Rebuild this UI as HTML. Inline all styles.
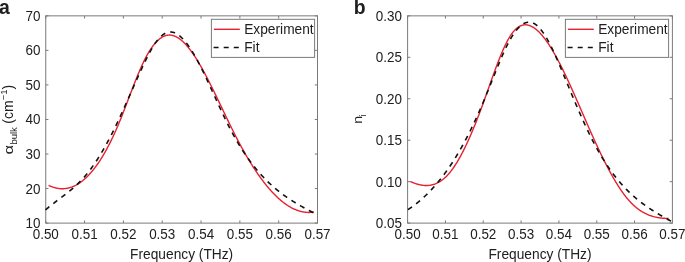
<!DOCTYPE html>
<html><head><meta charset="utf-8"><style>
html,body{margin:0;padding:0;background:#fff;}
svg{display:block;will-change:transform;}
text{font-family:"Liberation Sans",sans-serif;fill:#202020;}
</style></head><body>
<svg width="685" height="262" viewBox="0 0 685 262">
<rect width="685" height="262" fill="#fff"/>
<g stroke="#7a7a7a" stroke-width="1" fill="none">
<rect x="45.75" y="15.85" width="271.75" height="207.25" fill="none" stroke="#7a7a7a" stroke-width="1"/>
<line x1="45.75" y1="223.1" x2="45.75" y2="220.4" />
<line x1="45.75" y1="15.85" x2="45.75" y2="18.55" />
<line x1="84.57" y1="223.1" x2="84.57" y2="220.4" />
<line x1="84.57" y1="15.85" x2="84.57" y2="18.55" />
<line x1="123.39" y1="223.1" x2="123.39" y2="220.4" />
<line x1="123.39" y1="15.85" x2="123.39" y2="18.55" />
<line x1="162.21" y1="223.1" x2="162.21" y2="220.4" />
<line x1="162.21" y1="15.85" x2="162.21" y2="18.55" />
<line x1="201.04" y1="223.1" x2="201.04" y2="220.4" />
<line x1="201.04" y1="15.85" x2="201.04" y2="18.55" />
<line x1="239.86" y1="223.1" x2="239.86" y2="220.4" />
<line x1="239.86" y1="15.85" x2="239.86" y2="18.55" />
<line x1="278.68" y1="223.1" x2="278.68" y2="220.4" />
<line x1="278.68" y1="15.85" x2="278.68" y2="18.55" />
<line x1="317.50" y1="223.1" x2="317.50" y2="220.4" />
<line x1="317.50" y1="15.85" x2="317.50" y2="18.55" />
<line x1="45.75" y1="15.85" x2="48.45" y2="15.85" />
<line x1="317.5" y1="15.85" x2="314.8" y2="15.85" />
<line x1="45.75" y1="50.39" x2="48.45" y2="50.39" />
<line x1="317.5" y1="50.39" x2="314.8" y2="50.39" />
<line x1="45.75" y1="84.93" x2="48.45" y2="84.93" />
<line x1="317.5" y1="84.93" x2="314.8" y2="84.93" />
<line x1="45.75" y1="119.47" x2="48.45" y2="119.47" />
<line x1="317.5" y1="119.47" x2="314.8" y2="119.47" />
<line x1="45.75" y1="154.02" x2="48.45" y2="154.02" />
<line x1="317.5" y1="154.02" x2="314.8" y2="154.02" />
<line x1="45.75" y1="188.56" x2="48.45" y2="188.56" />
<line x1="317.5" y1="188.56" x2="314.8" y2="188.56" />
<line x1="45.75" y1="223.10" x2="48.45" y2="223.10" />
<line x1="317.5" y1="223.10" x2="314.8" y2="223.10" />
<rect x="407.6" y="15.85" width="264.79999999999995" height="207.25" fill="none" stroke="#7a7a7a" stroke-width="1"/>
<line x1="407.60" y1="223.1" x2="407.60" y2="220.4" />
<line x1="407.60" y1="15.85" x2="407.60" y2="18.55" />
<line x1="445.43" y1="223.1" x2="445.43" y2="220.4" />
<line x1="445.43" y1="15.85" x2="445.43" y2="18.55" />
<line x1="483.26" y1="223.1" x2="483.26" y2="220.4" />
<line x1="483.26" y1="15.85" x2="483.26" y2="18.55" />
<line x1="521.09" y1="223.1" x2="521.09" y2="220.4" />
<line x1="521.09" y1="15.85" x2="521.09" y2="18.55" />
<line x1="558.91" y1="223.1" x2="558.91" y2="220.4" />
<line x1="558.91" y1="15.85" x2="558.91" y2="18.55" />
<line x1="596.74" y1="223.1" x2="596.74" y2="220.4" />
<line x1="596.74" y1="15.85" x2="596.74" y2="18.55" />
<line x1="634.57" y1="223.1" x2="634.57" y2="220.4" />
<line x1="634.57" y1="15.85" x2="634.57" y2="18.55" />
<line x1="672.40" y1="223.1" x2="672.40" y2="220.4" />
<line x1="672.40" y1="15.85" x2="672.40" y2="18.55" />
<line x1="407.6" y1="15.85" x2="410.3" y2="15.85" />
<line x1="672.4" y1="15.85" x2="669.6999999999999" y2="15.85" />
<line x1="407.6" y1="57.30" x2="410.3" y2="57.30" />
<line x1="672.4" y1="57.30" x2="669.6999999999999" y2="57.30" />
<line x1="407.6" y1="98.75" x2="410.3" y2="98.75" />
<line x1="672.4" y1="98.75" x2="669.6999999999999" y2="98.75" />
<line x1="407.6" y1="140.20" x2="410.3" y2="140.20" />
<line x1="672.4" y1="140.20" x2="669.6999999999999" y2="140.20" />
<line x1="407.6" y1="181.65" x2="410.3" y2="181.65" />
<line x1="672.4" y1="181.65" x2="669.6999999999999" y2="181.65" />
<line x1="407.6" y1="223.10" x2="410.3" y2="223.10" />
<line x1="672.4" y1="223.10" x2="669.6999999999999" y2="223.10" />
</g>
<g fill="none" stroke-linejoin="round">
<path d="M48.60,185.33 L49.10,185.57 L49.60,185.81 L50.10,186.03 L50.60,186.25 L51.10,186.46 L51.60,186.65 L52.10,186.84 L52.60,187.02 L53.10,187.20 L53.60,187.36 L54.10,187.51 L54.60,187.66 L55.10,187.79 L55.60,187.92 L56.10,188.04 L56.60,188.15 L57.10,188.25 L57.60,188.34 L58.10,188.42 L58.60,188.49 L59.10,188.55 L59.60,188.60 L60.10,188.65 L60.60,188.68 L61.10,188.71 L61.60,188.73 L62.10,188.73 L62.60,188.73 L63.10,188.72 L63.60,188.70 L64.10,188.67 L64.60,188.63 L65.10,188.58 L65.60,188.52 L66.10,188.45 L66.60,188.37 L67.10,188.28 L67.60,188.19 L68.10,188.08 L68.60,187.96 L69.10,187.84 L69.60,187.70 L70.10,187.56 L70.60,187.40 L71.10,187.23 L71.60,187.06 L72.10,186.88 L72.60,186.68 L73.10,186.48 L73.60,186.26 L74.10,186.04 L74.60,185.81 L75.10,185.56 L75.60,185.31 L76.10,185.05 L76.60,184.77 L77.10,184.49 L77.60,184.20 L78.10,183.89 L78.60,183.58 L79.10,183.26 L79.60,182.92 L80.10,182.58 L80.60,182.22 L81.10,181.86 L81.60,181.49 L82.10,181.10 L82.60,180.71 L83.10,180.30 L83.60,179.89 L84.10,179.46 L84.60,179.03 L85.10,178.58 L85.60,178.12 L86.10,177.66 L86.60,177.18 L87.10,176.69 L87.60,176.19 L88.10,175.69 L88.60,175.17 L89.10,174.64 L89.60,174.10 L90.10,173.55 L90.60,172.98 L91.10,172.41 L91.60,171.83 L92.10,171.24 L92.60,170.63 L93.10,170.02 L93.60,169.39 L94.10,168.76 L94.60,168.11 L95.10,167.45 L95.60,166.79 L96.10,166.11 L96.60,165.42 L97.10,164.72 L97.60,164.00 L98.10,163.28 L98.60,162.55 L99.10,161.80 L99.60,161.05 L100.10,160.28 L100.60,159.51 L101.10,158.72 L101.60,157.92 L102.10,157.11 L102.60,156.29 L103.10,155.45 L103.60,154.61 L104.10,153.75 L104.60,152.89 L105.10,152.01 L105.60,151.12 L106.10,150.22 L106.60,149.31 L107.10,148.39 L107.60,147.45 L108.10,146.51 L108.60,145.55 L109.10,144.59 L109.60,143.61 L110.10,142.62 L110.60,141.61 L111.10,140.60 L111.60,139.58 L112.10,138.54 L112.60,137.49 L113.10,136.43 L113.60,135.36 L114.10,134.28 L114.60,133.18 L115.10,132.08 L115.60,130.96 L116.10,129.83 L116.60,128.69 L117.10,127.54 L117.60,126.37 L118.10,125.20 L118.60,124.01 L119.10,122.81 L119.60,121.60 L120.10,120.37 L120.60,119.14 L121.10,117.90 L121.60,116.65 L122.10,115.39 L122.60,114.12 L123.10,112.85 L123.60,111.57 L124.10,110.28 L124.60,108.99 L125.10,107.70 L125.60,106.40 L126.10,105.09 L126.60,103.79 L127.10,102.48 L127.60,101.17 L128.10,99.85 L128.60,98.54 L129.10,97.23 L129.60,95.92 L130.10,94.61 L130.60,93.30 L131.10,91.99 L131.60,90.69 L132.10,89.39 L132.60,88.09 L133.10,86.80 L133.60,85.52 L134.10,84.24 L134.60,82.97 L135.10,81.70 L135.60,80.44 L136.10,79.20 L136.60,77.96 L137.10,76.73 L137.60,75.51 L138.10,74.30 L138.60,73.10 L139.10,71.92 L139.60,70.74 L140.10,69.58 L140.60,68.44 L141.10,67.31 L141.60,66.19 L142.10,65.09 L142.60,64.01 L143.10,62.94 L143.60,61.89 L144.10,60.86 L144.60,59.85 L145.10,58.85 L145.60,57.88 L146.10,56.93 L146.60,55.99 L147.10,55.08 L147.60,54.19 L148.10,53.32 L148.60,52.47 L149.10,51.64 L149.60,50.83 L150.10,50.04 L150.60,49.27 L151.10,48.52 L151.60,47.80 L152.10,47.09 L152.60,46.40 L153.10,45.73 L153.60,45.09 L154.10,44.46 L154.60,43.86 L155.10,43.27 L155.60,42.71 L156.10,42.16 L156.60,41.64 L157.10,41.13 L157.60,40.65 L158.10,40.19 L158.60,39.74 L159.10,39.32 L159.60,38.92 L160.10,38.53 L160.60,38.17 L161.10,37.83 L161.60,37.50 L162.10,37.20 L162.60,36.92 L163.10,36.66 L163.60,36.41 L164.10,36.19 L164.60,35.99 L165.10,35.80 L165.60,35.64 L166.10,35.50 L166.60,35.38 L167.10,35.27 L167.60,35.19 L168.10,35.13 L168.60,35.08 L169.10,35.06 L169.60,35.06 L170.10,35.07 L170.60,35.11 L171.10,35.17 L171.60,35.24 L172.10,35.33 L172.60,35.45 L173.10,35.58 L173.60,35.73 L174.10,35.89 L174.60,36.08 L175.10,36.28 L175.60,36.50 L176.10,36.74 L176.60,37.00 L177.10,37.27 L177.60,37.56 L178.10,37.87 L178.60,38.19 L179.10,38.53 L179.60,38.89 L180.10,39.26 L180.60,39.65 L181.10,40.05 L181.60,40.47 L182.10,40.90 L182.60,41.35 L183.10,41.82 L183.60,42.29 L184.10,42.79 L184.60,43.29 L185.10,43.82 L185.60,44.35 L186.10,44.90 L186.60,45.46 L187.10,46.04 L187.60,46.63 L188.10,47.23 L188.60,47.85 L189.10,48.47 L189.60,49.11 L190.10,49.77 L190.60,50.43 L191.10,51.11 L191.60,51.80 L192.10,52.49 L192.60,53.21 L193.10,53.93 L193.60,54.66 L194.10,55.40 L194.60,56.16 L195.10,56.92 L195.60,57.70 L196.10,58.48 L196.60,59.28 L197.10,60.08 L197.60,60.89 L198.10,61.72 L198.60,62.55 L199.10,63.39 L199.60,64.24 L200.10,65.09 L200.60,65.96 L201.10,66.84 L201.60,67.72 L202.10,68.61 L202.60,69.50 L203.10,70.41 L203.60,71.32 L204.10,72.24 L204.60,73.16 L205.10,74.10 L205.60,75.04 L206.10,75.98 L206.60,76.93 L207.10,77.89 L207.60,78.85 L208.10,79.82 L208.60,80.79 L209.10,81.77 L209.60,82.75 L210.10,83.74 L210.60,84.73 L211.10,85.73 L211.60,86.73 L212.10,87.74 L212.60,88.74 L213.10,89.76 L213.60,90.77 L214.10,91.79 L214.60,92.81 L215.10,93.84 L215.60,94.87 L216.10,95.90 L216.60,96.93 L217.10,97.96 L217.60,99.00 L218.10,100.04 L218.60,101.08 L219.10,102.12 L219.60,103.16 L220.10,104.20 L220.60,105.24 L221.10,106.29 L221.60,107.33 L222.10,108.38 L222.60,109.42 L223.10,110.47 L223.60,111.51 L224.10,112.56 L224.60,113.60 L225.10,114.64 L225.60,115.68 L226.10,116.72 L226.60,117.76 L227.10,118.80 L227.60,119.83 L228.10,120.87 L228.60,121.90 L229.10,122.92 L229.60,123.95 L230.10,124.97 L230.60,125.99 L231.10,127.01 L231.60,128.02 L232.10,129.03 L232.60,130.04 L233.10,131.04 L233.60,132.04 L234.10,133.03 L234.60,134.02 L235.10,135.01 L235.60,135.99 L236.10,136.96 L236.60,137.93 L237.10,138.89 L237.60,139.85 L238.10,140.81 L238.60,141.75 L239.10,142.70 L239.60,143.63 L240.10,144.56 L240.60,145.49 L241.10,146.41 L241.60,147.33 L242.10,148.24 L242.60,149.14 L243.10,150.04 L243.60,150.93 L244.10,151.82 L244.60,152.70 L245.10,153.58 L245.60,154.45 L246.10,155.31 L246.60,156.17 L247.10,157.02 L247.60,157.87 L248.10,158.71 L248.60,159.55 L249.10,160.38 L249.60,161.20 L250.10,162.02 L250.60,162.83 L251.10,163.64 L251.60,164.44 L252.10,165.24 L252.60,166.02 L253.10,166.81 L253.60,167.58 L254.10,168.36 L254.60,169.12 L255.10,169.88 L255.60,170.63 L256.10,171.38 L256.60,172.12 L257.10,172.86 L257.60,173.58 L258.10,174.31 L258.60,175.02 L259.10,175.73 L259.60,176.44 L260.10,177.14 L260.60,177.83 L261.10,178.51 L261.60,179.19 L262.10,179.86 L262.60,180.53 L263.10,181.19 L263.60,181.85 L264.10,182.49 L264.60,183.13 L265.10,183.77 L265.60,184.40 L266.10,185.02 L266.60,185.64 L267.10,186.24 L267.60,186.85 L268.10,187.44 L268.60,188.03 L269.10,188.62 L269.60,189.19 L270.10,189.76 L270.60,190.33 L271.10,190.88 L271.60,191.43 L272.10,191.98 L272.60,192.51 L273.10,193.04 L273.60,193.57 L274.10,194.08 L274.60,194.59 L275.10,195.10 L275.60,195.59 L276.10,196.08 L276.60,196.56 L277.10,197.04 L277.60,197.51 L278.10,197.97 L278.60,198.43 L279.10,198.88 L279.60,199.32 L280.10,199.75 L280.60,200.18 L281.10,200.60 L281.60,201.01 L282.10,201.42 L282.60,201.82 L283.10,202.21 L283.60,202.60 L284.10,202.98 L284.60,203.35 L285.10,203.71 L285.60,204.07 L286.10,204.42 L286.60,204.76 L287.10,205.10 L287.60,205.42 L288.10,205.75 L288.60,206.06 L289.10,206.37 L289.60,206.67 L290.10,206.96 L290.60,207.24 L291.10,207.52 L291.60,207.79 L292.10,208.05 L292.60,208.31 L293.10,208.55 L293.60,208.79 L294.10,209.03 L294.60,209.25 L295.10,209.47 L295.60,209.68 L296.10,209.88 L296.60,210.08 L297.10,210.26 L297.60,210.44 L298.10,210.62 L298.60,210.78 L299.10,210.94 L299.60,211.09 L300.10,211.23 L300.60,211.36 L301.10,211.49 L301.60,211.61 L302.10,211.72 L302.60,211.82 L303.10,211.92 L303.60,212.00 L304.10,212.08 L304.60,212.16 L305.10,212.22 L305.60,212.28 L306.10,212.32 L306.60,212.36 L307.10,212.40 L307.60,212.42 L308.10,212.44 L308.60,212.45 L309.10,212.45 L309.60,212.44 L310.10,212.42 L310.60,212.40 L311.10,212.37 L311.60,212.33 L312.10,212.28 L312.60,212.22 L313.10,212.16 L313.60,212.08 L313.90,212.04" stroke="#e8202f" stroke-width="1.4"/>
<path d="M45.50,209.90 L46.00,209.46 L46.50,209.04 L47.00,208.61 L47.50,208.19 L48.00,207.78 L48.50,207.37 L49.00,206.96 L49.50,206.55 L50.00,206.15 L50.50,205.75 L51.00,205.35 L51.50,204.96 L52.00,204.56 L52.50,204.17 L53.00,203.78 L53.50,203.40 L54.00,203.01 L54.50,202.63 L55.00,202.25 L55.50,201.87 L56.00,201.49 L56.50,201.11 L57.00,200.73 L57.50,200.36 L58.00,199.98 L58.50,199.61 L59.00,199.23 L59.50,198.86 L60.00,198.48 L60.50,198.10 L61.00,197.73 L61.50,197.35 L62.00,196.97 L62.50,196.60 L63.00,196.22 L63.50,195.84 L64.00,195.45 L64.50,195.07 L65.00,194.69 L65.50,194.30 L66.00,193.91 L66.50,193.52 L67.00,193.13 L67.50,192.73 L68.00,192.34 L68.50,191.94 L69.00,191.53 L69.50,191.13 L70.00,190.72 L70.50,190.30 L71.00,189.89 L71.50,189.47 L72.00,189.04 L72.50,188.62 L73.00,188.19 L73.50,187.75 L74.00,187.31 L74.50,186.87 L75.00,186.42 L75.50,185.96 L76.00,185.50 L76.50,185.04 L77.00,184.57 L77.50,184.09 L78.00,183.61 L78.50,183.13 L79.00,182.63 L79.50,182.13 L80.00,181.63 L80.50,181.12 L81.00,180.60 L81.50,180.08 L82.00,179.54 L82.50,179.01 L83.00,178.46 L83.50,177.91 L84.00,177.35 L84.50,176.78 L85.00,176.20 L85.50,175.62 L86.00,175.03 L86.50,174.43 L87.00,173.82 L87.50,173.21 L88.00,172.58 L88.50,171.95 L89.00,171.31 L89.50,170.66 L90.00,170.00 L90.50,169.34 L91.00,168.66 L91.50,167.98 L92.00,167.29 L92.50,166.60 L93.00,165.89 L93.50,165.18 L94.00,164.46 L94.50,163.73 L95.00,162.99 L95.50,162.25 L96.00,161.50 L96.50,160.74 L97.00,159.97 L97.50,159.20 L98.00,158.42 L98.50,157.63 L99.00,156.83 L99.50,156.02 L100.00,155.21 L100.50,154.39 L101.00,153.56 L101.50,152.73 L102.00,151.89 L102.50,151.04 L103.00,150.18 L103.50,149.32 L104.00,148.44 L104.50,147.57 L105.00,146.68 L105.50,145.79 L106.00,144.89 L106.50,143.98 L107.00,143.06 L107.50,142.14 L108.00,141.21 L108.50,140.28 L109.00,139.34 L109.50,138.39 L110.00,137.43 L110.50,136.47 L111.00,135.50 L111.50,134.52 L112.00,133.53 L112.50,132.54 L113.00,131.55 L113.50,130.54 L114.00,129.53 L114.50,128.51 L115.00,127.49 L115.50,126.46 L116.00,125.42 L116.50,124.38 L117.00,123.33 L117.50,122.27 L118.00,121.21 L118.50,120.14 L119.00,119.07 L119.50,118.00 L120.00,116.92 L120.50,115.83 L121.00,114.74 L121.50,113.65 L122.00,112.55 L122.50,111.45 L123.00,110.34 L123.50,109.24 L124.00,108.13 L124.50,107.01 L125.00,105.90 L125.50,104.78 L126.00,103.66 L126.50,102.54 L127.00,101.41 L127.50,100.29 L128.00,99.16 L128.50,98.03 L129.00,96.90 L129.50,95.78 L130.00,94.65 L130.50,93.52 L131.00,92.39 L131.50,91.26 L132.00,90.13 L132.50,89.00 L133.00,87.87 L133.50,86.74 L134.00,85.62 L134.50,84.50 L135.00,83.37 L135.50,82.25 L136.00,81.14 L136.50,80.02 L137.00,78.91 L137.50,77.80 L138.00,76.69 L138.50,75.58 L139.00,74.48 L139.50,73.39 L140.00,72.29 L140.50,71.20 L141.00,70.12 L141.50,69.04 L142.00,67.96 L142.50,66.89 L143.00,65.83 L143.50,64.77 L144.00,63.71 L144.50,62.67 L145.00,61.63 L145.50,60.60 L146.00,59.58 L146.50,58.57 L147.00,57.56 L147.50,56.58 L148.00,55.60 L148.50,54.63 L149.00,53.68 L149.50,52.74 L150.00,51.82 L150.50,50.91 L151.00,50.02 L151.50,49.14 L152.00,48.29 L152.50,47.45 L153.00,46.63 L153.50,45.82 L154.00,45.04 L154.50,44.28 L155.00,43.54 L155.50,42.82 L156.00,42.13 L156.50,41.45 L157.00,40.80 L157.50,40.17 L158.00,39.56 L158.50,38.97 L159.00,38.41 L159.50,37.87 L160.00,37.35 L160.50,36.85 L161.00,36.38 L161.50,35.93 L162.00,35.50 L162.50,35.10 L163.00,34.72 L163.50,34.36 L164.00,34.03 L164.50,33.72 L165.00,33.44 L165.50,33.18 L166.00,32.95 L166.50,32.74 L167.00,32.55 L167.50,32.39 L168.00,32.26 L168.50,32.15 L169.00,32.06 L169.50,32.01 L170.00,31.97 L170.50,31.96 L171.00,31.98 L171.50,32.02 L172.00,32.09 L172.50,32.17 L173.00,32.28 L173.50,32.42 L174.00,32.58 L174.50,32.76 L175.00,32.96 L175.50,33.19 L176.00,33.43 L176.50,33.70 L177.00,33.99 L177.50,34.30 L178.00,34.63 L178.50,34.98 L179.00,35.35 L179.50,35.74 L180.00,36.16 L180.50,36.59 L181.00,37.03 L181.50,37.50 L182.00,37.99 L182.50,38.49 L183.00,39.02 L183.50,39.56 L184.00,40.11 L184.50,40.69 L185.00,41.28 L185.50,41.89 L186.00,42.51 L186.50,43.15 L187.00,43.81 L187.50,44.48 L188.00,45.17 L188.50,45.87 L189.00,46.58 L189.50,47.31 L190.00,48.06 L190.50,48.81 L191.00,49.59 L191.50,50.37 L192.00,51.17 L192.50,51.98 L193.00,52.80 L193.50,53.64 L194.00,54.48 L194.50,55.34 L195.00,56.21 L195.50,57.09 L196.00,57.98 L196.50,58.88 L197.00,59.79 L197.50,60.72 L198.00,61.65 L198.50,62.59 L199.00,63.54 L199.50,64.49 L200.00,65.46 L200.50,66.44 L201.00,67.42 L201.50,68.41 L202.00,69.41 L202.50,70.41 L203.00,71.42 L203.50,72.44 L204.00,73.47 L204.50,74.50 L205.00,75.53 L205.50,76.57 L206.00,77.62 L206.50,78.67 L207.00,79.73 L207.50,80.79 L208.00,81.86 L208.50,82.92 L209.00,84.00 L209.50,85.07 L210.00,86.15 L210.50,87.23 L211.00,88.31 L211.50,89.40 L212.00,90.49 L212.50,91.58 L213.00,92.67 L213.50,93.76 L214.00,94.85 L214.50,95.94 L215.00,97.03 L215.50,98.13 L216.00,99.22 L216.50,100.31 L217.00,101.40 L217.50,102.49 L218.00,103.58 L218.50,104.66 L219.00,105.75 L219.50,106.83 L220.00,107.91 L220.50,108.98 L221.00,110.06 L221.50,111.12 L222.00,112.19 L222.50,113.25 L223.00,114.31 L223.50,115.36 L224.00,116.41 L224.50,117.45 L225.00,118.49 L225.50,119.52 L226.00,120.55 L226.50,121.57 L227.00,122.58 L227.50,123.59 L228.00,124.59 L228.50,125.58 L229.00,126.57 L229.50,127.55 L230.00,128.51 L230.50,129.47 L231.00,130.43 L231.50,131.37 L232.00,132.31 L232.50,133.24 L233.00,134.16 L233.50,135.07 L234.00,135.98 L234.50,136.88 L235.00,137.77 L235.50,138.65 L236.00,139.52 L236.50,140.39 L237.00,141.25 L237.50,142.10 L238.00,142.95 L238.50,143.79 L239.00,144.62 L239.50,145.44 L240.00,146.26 L240.50,147.06 L241.00,147.87 L241.50,148.66 L242.00,149.45 L242.50,150.23 L243.00,151.00 L243.50,151.77 L244.00,152.53 L244.50,153.28 L245.00,154.03 L245.50,154.77 L246.00,155.50 L246.50,156.23 L247.00,156.95 L247.50,157.66 L248.00,158.37 L248.50,159.07 L249.00,159.76 L249.50,160.45 L250.00,161.13 L250.50,161.81 L251.00,162.47 L251.50,163.14 L252.00,163.79 L252.50,164.44 L253.00,165.09 L253.50,165.73 L254.00,166.36 L254.50,166.99 L255.00,167.61 L255.50,168.22 L256.00,168.83 L256.50,169.44 L257.00,170.04 L257.50,170.63 L258.00,171.22 L258.50,171.80 L259.00,172.37 L259.50,172.95 L260.00,173.51 L260.50,174.07 L261.00,174.63 L261.50,175.18 L262.00,175.72 L262.50,176.26 L263.00,176.79 L263.50,177.32 L264.00,177.85 L264.50,178.37 L265.00,178.88 L265.50,179.39 L266.00,179.90 L266.50,180.40 L267.00,180.89 L267.50,181.38 L268.00,181.87 L268.50,182.35 L269.00,182.83 L269.50,183.30 L270.00,183.77 L270.50,184.23 L271.00,184.69 L271.50,185.15 L272.00,185.60 L272.50,186.04 L273.00,186.49 L273.50,186.92 L274.00,187.36 L274.50,187.79 L275.00,188.22 L275.50,188.64 L276.00,189.06 L276.50,189.47 L277.00,189.88 L277.50,190.29 L278.00,190.69 L278.50,191.09 L279.00,191.49 L279.50,191.88 L280.00,192.27 L280.50,192.66 L281.00,193.04 L281.50,193.42 L282.00,193.80 L282.50,194.17 L283.00,194.54 L283.50,194.90 L284.00,195.27 L284.50,195.63 L285.00,195.98 L285.50,196.34 L286.00,196.69 L286.50,197.04 L287.00,197.38 L287.50,197.72 L288.00,198.06 L288.50,198.40 L289.00,198.73 L289.50,199.07 L290.00,199.40 L290.50,199.72 L291.00,200.05 L291.50,200.37 L292.00,200.69 L292.50,201.00 L293.00,201.32 L293.50,201.63 L294.00,201.94 L294.50,202.25 L295.00,202.55 L295.50,202.86 L296.00,203.16 L296.50,203.46 L297.00,203.76 L297.50,204.05 L298.00,204.35 L298.50,204.64 L299.00,204.93 L299.50,205.22 L300.00,205.51 L300.50,205.79 L301.00,206.08 L301.50,206.36 L302.00,206.64 L302.50,206.92 L303.00,207.20 L303.50,207.48 L304.00,207.75 L304.50,208.03 L305.00,208.30 L305.50,208.57 L306.00,208.84 L306.50,209.12 L307.00,209.38 L307.50,209.65 L308.00,209.92 L308.50,210.19 L309.00,210.45 L309.50,210.72 L310.00,210.98 L310.50,211.24 L311.00,211.51 L311.50,211.77 L312.00,212.03 L312.50,212.29 L313.00,212.55 L313.50,212.81 L314.00,213.07 L314.50,213.33" stroke="#111" stroke-width="1.6" stroke-dasharray="5 5.1"/>
<path d="M410.30,181.52 L410.80,181.74 L411.30,181.96 L411.80,182.17 L412.30,182.37 L412.80,182.58 L413.30,182.77 L413.80,182.96 L414.30,183.15 L414.80,183.32 L415.30,183.50 L415.80,183.66 L416.30,183.83 L416.80,183.98 L417.30,184.13 L417.80,184.27 L418.30,184.40 L418.80,184.53 L419.30,184.65 L419.80,184.76 L420.30,184.87 L420.80,184.97 L421.30,185.06 L421.80,185.14 L422.30,185.22 L422.80,185.28 L423.30,185.34 L423.80,185.39 L424.30,185.43 L424.80,185.47 L425.30,185.49 L425.80,185.50 L426.30,185.51 L426.80,185.50 L427.30,185.49 L427.80,185.47 L428.30,185.44 L428.80,185.39 L429.30,185.34 L429.80,185.28 L430.30,185.20 L430.80,185.12 L431.30,185.02 L431.80,184.92 L432.30,184.80 L432.80,184.67 L433.30,184.53 L433.80,184.38 L434.30,184.22 L434.80,184.04 L435.30,183.86 L435.80,183.66 L436.30,183.45 L436.80,183.22 L437.30,182.99 L437.80,182.74 L438.30,182.48 L438.80,182.21 L439.30,181.92 L439.80,181.62 L440.30,181.30 L440.80,180.98 L441.30,180.63 L441.80,180.28 L442.30,179.91 L442.80,179.53 L443.30,179.13 L443.80,178.72 L444.30,178.29 L444.80,177.85 L445.30,177.39 L445.80,176.92 L446.30,176.43 L446.80,175.93 L447.30,175.41 L447.80,174.88 L448.30,174.33 L448.80,173.76 L449.30,173.18 L449.80,172.58 L450.30,171.97 L450.80,171.34 L451.30,170.69 L451.80,170.03 L452.30,169.35 L452.80,168.66 L453.30,167.96 L453.80,167.23 L454.30,166.50 L454.80,165.75 L455.30,164.98 L455.80,164.20 L456.30,163.41 L456.80,162.60 L457.30,161.77 L457.80,160.94 L458.30,160.09 L458.80,159.22 L459.30,158.34 L459.80,157.45 L460.30,156.55 L460.80,155.63 L461.30,154.70 L461.80,153.76 L462.30,152.80 L462.80,151.83 L463.30,150.85 L463.80,149.86 L464.30,148.85 L464.80,147.83 L465.30,146.81 L465.80,145.76 L466.30,144.71 L466.80,143.65 L467.30,142.57 L467.80,141.48 L468.30,140.38 L468.80,139.27 L469.30,138.15 L469.80,137.02 L470.30,135.88 L470.80,134.73 L471.30,133.57 L471.80,132.39 L472.30,131.21 L472.80,130.02 L473.30,128.81 L473.80,127.60 L474.30,126.38 L474.80,125.15 L475.30,123.91 L475.80,122.66 L476.30,121.40 L476.80,120.13 L477.30,118.85 L477.80,117.57 L478.30,116.28 L478.80,114.97 L479.30,113.66 L479.80,112.35 L480.30,111.02 L480.80,109.68 L481.30,108.34 L481.80,106.99 L482.30,105.64 L482.80,104.27 L483.30,102.90 L483.80,101.52 L484.30,100.14 L484.80,98.75 L485.30,97.35 L485.80,95.95 L486.30,94.55 L486.80,93.14 L487.30,91.73 L487.80,90.32 L488.30,88.91 L488.80,87.49 L489.30,86.08 L489.80,84.67 L490.30,83.26 L490.80,81.85 L491.30,80.45 L491.80,79.05 L492.30,77.65 L492.80,76.26 L493.30,74.87 L493.80,73.49 L494.30,72.12 L494.80,70.76 L495.30,69.40 L495.80,68.05 L496.30,66.71 L496.80,65.39 L497.30,64.07 L497.80,62.77 L498.30,61.47 L498.80,60.20 L499.30,58.93 L499.80,57.68 L500.30,56.44 L500.80,55.22 L501.30,54.02 L501.80,52.83 L502.30,51.67 L502.80,50.52 L503.30,49.39 L503.80,48.27 L504.30,47.18 L504.80,46.11 L505.30,45.07 L505.80,44.04 L506.30,43.04 L506.80,42.06 L507.30,41.11 L507.80,40.18 L508.30,39.28 L508.80,38.40 L509.30,37.56 L509.80,36.74 L510.30,35.94 L510.80,35.18 L511.30,34.45 L511.80,33.75 L512.30,33.07 L512.80,32.42 L513.30,31.81 L513.80,31.22 L514.30,30.65 L514.80,30.12 L515.30,29.61 L515.80,29.13 L516.30,28.68 L516.80,28.25 L517.30,27.85 L517.80,27.48 L518.30,27.13 L518.80,26.81 L519.30,26.51 L519.80,26.24 L520.30,25.99 L520.80,25.77 L521.30,25.57 L521.80,25.39 L522.30,25.24 L522.80,25.11 L523.30,25.01 L523.80,24.92 L524.30,24.86 L524.80,24.83 L525.30,24.81 L525.80,24.82 L526.30,24.85 L526.80,24.90 L527.30,24.97 L527.80,25.06 L528.30,25.17 L528.80,25.31 L529.30,25.46 L529.80,25.63 L530.30,25.82 L530.80,26.04 L531.30,26.27 L531.80,26.52 L532.30,26.78 L532.80,27.07 L533.30,27.37 L533.80,27.70 L534.30,28.04 L534.80,28.39 L535.30,28.77 L535.80,29.16 L536.30,29.56 L536.80,29.99 L537.30,30.42 L537.80,30.88 L538.30,31.35 L538.80,31.83 L539.30,32.33 L539.80,32.85 L540.30,33.38 L540.80,33.92 L541.30,34.48 L541.80,35.05 L542.30,35.64 L542.80,36.24 L543.30,36.86 L543.80,37.48 L544.30,38.13 L544.80,38.78 L545.30,39.45 L545.80,40.13 L546.30,40.82 L546.80,41.53 L547.30,42.24 L547.80,42.97 L548.30,43.71 L548.80,44.47 L549.30,45.23 L549.80,46.01 L550.30,46.80 L550.80,47.60 L551.30,48.41 L551.80,49.23 L552.30,50.06 L552.80,50.90 L553.30,51.75 L553.80,52.61 L554.30,53.48 L554.80,54.36 L555.30,55.25 L555.80,56.15 L556.30,57.06 L556.80,57.98 L557.30,58.91 L557.80,59.84 L558.30,60.79 L558.80,61.74 L559.30,62.70 L559.80,63.67 L560.30,64.65 L560.80,65.63 L561.30,66.62 L561.80,67.62 L562.30,68.63 L562.80,69.64 L563.30,70.66 L563.80,71.69 L564.30,72.72 L564.80,73.76 L565.30,74.80 L565.80,75.85 L566.30,76.91 L566.80,77.97 L567.30,79.04 L567.80,80.11 L568.30,81.19 L568.80,82.27 L569.30,83.36 L569.80,84.45 L570.30,85.55 L570.80,86.65 L571.30,87.75 L571.80,88.86 L572.30,89.97 L572.80,91.09 L573.30,92.21 L573.80,93.33 L574.30,94.45 L574.80,95.58 L575.30,96.71 L575.80,97.84 L576.30,98.98 L576.80,100.12 L577.30,101.25 L577.80,102.39 L578.30,103.54 L578.80,104.68 L579.30,105.83 L579.80,106.97 L580.30,108.12 L580.80,109.26 L581.30,110.41 L581.80,111.56 L582.30,112.71 L582.80,113.86 L583.30,115.01 L583.80,116.15 L584.30,117.30 L584.80,118.45 L585.30,119.60 L585.80,120.74 L586.30,121.88 L586.80,123.03 L587.30,124.17 L587.80,125.31 L588.30,126.44 L588.80,127.58 L589.30,128.71 L589.80,129.84 L590.30,130.97 L590.80,132.10 L591.30,133.22 L591.80,134.34 L592.30,135.45 L592.80,136.57 L593.30,137.68 L593.80,138.78 L594.30,139.88 L594.80,140.98 L595.30,142.07 L595.80,143.16 L596.30,144.25 L596.80,145.33 L597.30,146.40 L597.80,147.47 L598.30,148.54 L598.80,149.60 L599.30,150.66 L599.80,151.71 L600.30,152.76 L600.80,153.80 L601.30,154.83 L601.80,155.86 L602.30,156.89 L602.80,157.90 L603.30,158.92 L603.80,159.92 L604.30,160.92 L604.80,161.92 L605.30,162.91 L605.80,163.89 L606.30,164.86 L606.80,165.83 L607.30,166.80 L607.80,167.75 L608.30,168.70 L608.80,169.64 L609.30,170.57 L609.80,171.50 L610.30,172.42 L610.80,173.33 L611.30,174.24 L611.80,175.13 L612.30,176.02 L612.80,176.90 L613.30,177.78 L613.80,178.64 L614.30,179.50 L614.80,180.35 L615.30,181.19 L615.80,182.02 L616.30,182.84 L616.80,183.66 L617.30,184.46 L617.80,185.26 L618.30,186.05 L618.80,186.82 L619.30,187.59 L619.80,188.35 L620.30,189.10 L620.80,189.84 L621.30,190.57 L621.80,191.29 L622.30,192.00 L622.80,192.71 L623.30,193.40 L623.80,194.08 L624.30,194.75 L624.80,195.41 L625.30,196.05 L625.80,196.69 L626.30,197.32 L626.80,197.94 L627.30,198.54 L627.80,199.14 L628.30,199.72 L628.80,200.29 L629.30,200.85 L629.80,201.40 L630.30,201.94 L630.80,202.47 L631.30,202.98 L631.80,203.49 L632.30,203.98 L632.80,204.47 L633.30,204.94 L633.80,205.41 L634.30,205.86 L634.80,206.30 L635.30,206.74 L635.80,207.16 L636.30,207.58 L636.80,207.98 L637.30,208.37 L637.80,208.76 L638.30,209.14 L638.80,209.50 L639.30,209.86 L639.80,210.21 L640.30,210.55 L640.80,210.88 L641.30,211.20 L641.80,211.51 L642.30,211.82 L642.80,212.11 L643.30,212.40 L643.80,212.68 L644.30,212.95 L644.80,213.21 L645.30,213.47 L645.80,213.72 L646.30,213.96 L646.80,214.19 L647.30,214.41 L647.80,214.63 L648.30,214.84 L648.80,215.04 L649.30,215.24 L649.80,215.42 L650.30,215.61 L650.80,215.78 L651.30,215.95 L651.80,216.11 L652.30,216.26 L652.80,216.41 L653.30,216.55 L653.80,216.69 L654.30,216.82 L654.80,216.94 L655.30,217.06 L655.80,217.17 L656.30,217.28 L656.80,217.38 L657.30,217.48 L657.80,217.57 L658.30,217.65 L658.80,217.73 L659.30,217.80 L659.80,217.87 L660.30,217.94 L660.80,218.00 L661.30,218.05 L661.80,218.10 L662.30,218.15 L662.80,218.19 L663.30,218.23 L663.80,218.26 L664.30,218.29 L664.80,218.32 L665.30,218.34 L665.80,218.36 L666.30,218.37 L666.80,218.38 L667.30,218.39 L667.80,218.39 L668.30,218.40 L668.60,218.39" stroke="#e8202f" stroke-width="1.4"/>
<path d="M407.90,209.68 L408.40,209.36 L408.90,209.03 L409.40,208.69 L409.90,208.35 L410.40,208.01 L410.90,207.66 L411.40,207.31 L411.90,206.96 L412.40,206.60 L412.90,206.24 L413.40,205.87 L413.90,205.50 L414.40,205.12 L414.90,204.74 L415.40,204.36 L415.90,203.97 L416.40,203.58 L416.90,203.18 L417.40,202.78 L417.90,202.38 L418.40,201.97 L418.90,201.56 L419.40,201.14 L419.90,200.72 L420.40,200.29 L420.90,199.86 L421.40,199.42 L421.90,198.98 L422.40,198.53 L422.90,198.08 L423.40,197.63 L423.90,197.17 L424.40,196.71 L424.90,196.24 L425.40,195.76 L425.90,195.29 L426.40,194.80 L426.90,194.32 L427.40,193.82 L427.90,193.33 L428.40,192.82 L428.90,192.32 L429.40,191.80 L429.90,191.29 L430.40,190.76 L430.90,190.24 L431.40,189.70 L431.90,189.17 L432.40,188.63 L432.90,188.08 L433.40,187.53 L433.90,186.97 L434.40,186.40 L434.90,185.84 L435.40,185.26 L435.90,184.68 L436.40,184.10 L436.90,183.51 L437.40,182.91 L437.90,182.31 L438.40,181.71 L438.90,181.10 L439.40,180.48 L439.90,179.86 L440.40,179.23 L440.90,178.60 L441.40,177.96 L441.90,177.32 L442.40,176.67 L442.90,176.01 L443.40,175.35 L443.90,174.68 L444.40,174.01 L444.90,173.33 L445.40,172.65 L445.90,171.96 L446.40,171.26 L446.90,170.56 L447.40,169.85 L447.90,169.14 L448.40,168.42 L448.90,167.69 L449.40,166.96 L449.90,166.23 L450.40,165.48 L450.90,164.73 L451.40,163.98 L451.90,163.22 L452.40,162.45 L452.90,161.67 L453.40,160.89 L453.90,160.11 L454.40,159.31 L454.90,158.52 L455.40,157.71 L455.90,156.90 L456.40,156.08 L456.90,155.26 L457.40,154.43 L457.90,153.59 L458.40,152.75 L458.90,151.90 L459.40,151.04 L459.90,150.18 L460.40,149.31 L460.90,148.43 L461.40,147.55 L461.90,146.66 L462.40,145.76 L462.90,144.86 L463.40,143.95 L463.90,143.03 L464.40,142.11 L464.90,141.18 L465.40,140.24 L465.90,139.30 L466.40,138.35 L466.90,137.39 L467.40,136.43 L467.90,135.46 L468.40,134.48 L468.90,133.50 L469.40,132.50 L469.90,131.50 L470.40,130.50 L470.90,129.48 L471.40,128.46 L471.90,127.44 L472.40,126.40 L472.90,125.36 L473.40,124.31 L473.90,123.25 L474.40,122.19 L474.90,121.12 L475.40,120.04 L475.90,118.96 L476.40,117.86 L476.90,116.76 L477.40,115.65 L477.90,114.54 L478.40,113.42 L478.90,112.28 L479.40,111.15 L479.90,110.00 L480.40,108.85 L480.90,107.69 L481.40,106.52 L481.90,105.34 L482.40,104.16 L482.90,102.98 L483.40,101.78 L483.90,100.58 L484.40,99.38 L484.90,98.17 L485.40,96.95 L485.90,95.74 L486.40,94.51 L486.90,93.29 L487.40,92.06 L487.90,90.83 L488.40,89.59 L488.90,88.35 L489.40,87.11 L489.90,85.87 L490.40,84.63 L490.90,83.39 L491.40,82.14 L491.90,80.90 L492.40,79.65 L492.90,78.41 L493.40,77.16 L493.90,75.92 L494.40,74.68 L494.90,73.44 L495.40,72.20 L495.90,70.96 L496.40,69.73 L496.90,68.50 L497.40,67.27 L497.90,66.05 L498.40,64.84 L498.90,63.63 L499.40,62.43 L499.90,61.23 L500.40,60.05 L500.90,58.87 L501.40,57.70 L501.90,56.55 L502.40,55.40 L502.90,54.27 L503.40,53.14 L503.90,52.04 L504.40,50.94 L504.90,49.86 L505.40,48.80 L505.90,47.75 L506.40,46.71 L506.90,45.70 L507.40,44.70 L507.90,43.72 L508.40,42.76 L508.90,41.82 L509.40,40.90 L509.90,40.00 L510.40,39.12 L510.90,38.26 L511.40,37.42 L511.90,36.60 L512.40,35.80 L512.90,35.03 L513.40,34.27 L513.90,33.54 L514.40,32.82 L514.90,32.13 L515.40,31.46 L515.90,30.81 L516.40,30.19 L516.90,29.58 L517.40,29.00 L517.90,28.44 L518.40,27.91 L518.90,27.39 L519.40,26.90 L519.90,26.44 L520.40,25.99 L520.90,25.57 L521.40,25.17 L521.90,24.80 L522.40,24.45 L522.90,24.13 L523.40,23.83 L523.90,23.55 L524.40,23.30 L524.90,23.07 L525.40,22.87 L525.90,22.69 L526.40,22.54 L526.90,22.41 L527.40,22.31 L527.90,22.24 L528.40,22.19 L528.90,22.17 L529.40,22.17 L529.90,22.20 L530.40,22.25 L530.90,22.34 L531.40,22.45 L531.90,22.58 L532.40,22.75 L532.90,22.94 L533.40,23.15 L533.90,23.40 L534.40,23.67 L534.90,23.98 L535.40,24.30 L535.90,24.66 L536.40,25.05 L536.90,25.46 L537.40,25.90 L537.90,26.36 L538.40,26.85 L538.90,27.37 L539.40,27.91 L539.90,28.47 L540.40,29.06 L540.90,29.67 L541.40,30.30 L541.90,30.96 L542.40,31.64 L542.90,32.34 L543.40,33.06 L543.90,33.81 L544.40,34.57 L544.90,35.35 L545.40,36.15 L545.90,36.97 L546.40,37.81 L546.90,38.67 L547.40,39.55 L547.90,40.44 L548.40,41.35 L548.90,42.27 L549.40,43.22 L549.90,44.17 L550.40,45.14 L550.90,46.13 L551.40,47.13 L551.90,48.14 L552.40,49.17 L552.90,50.21 L553.40,51.26 L553.90,52.32 L554.40,53.40 L554.90,54.49 L555.40,55.58 L555.90,56.69 L556.40,57.80 L556.90,58.93 L557.40,60.06 L557.90,61.20 L558.40,62.35 L558.90,63.51 L559.40,64.68 L559.90,65.85 L560.40,67.02 L560.90,68.20 L561.40,69.39 L561.90,70.58 L562.40,71.78 L562.90,72.98 L563.40,74.18 L563.90,75.39 L564.40,76.60 L564.90,77.81 L565.40,79.02 L565.90,80.23 L566.40,81.44 L566.90,82.66 L567.40,83.87 L567.90,85.08 L568.40,86.30 L568.90,87.51 L569.40,88.71 L569.90,89.92 L570.40,91.12 L570.90,92.33 L571.40,93.53 L571.90,94.72 L572.40,95.92 L572.90,97.11 L573.40,98.29 L573.90,99.48 L574.40,100.66 L574.90,101.84 L575.40,103.02 L575.90,104.19 L576.40,105.35 L576.90,106.52 L577.40,107.68 L577.90,108.83 L578.40,109.99 L578.90,111.13 L579.40,112.28 L579.90,113.42 L580.40,114.55 L580.90,115.68 L581.40,116.80 L581.90,117.92 L582.40,119.04 L582.90,120.14 L583.40,121.25 L583.90,122.35 L584.40,123.44 L584.90,124.52 L585.40,125.60 L585.90,126.68 L586.40,127.75 L586.90,128.81 L587.40,129.87 L587.90,130.91 L588.40,131.96 L588.90,132.99 L589.40,134.02 L589.90,135.04 L590.40,136.06 L590.90,137.07 L591.40,138.07 L591.90,139.06 L592.40,140.04 L592.90,141.02 L593.40,141.99 L593.90,142.95 L594.40,143.91 L594.90,144.85 L595.40,145.79 L595.90,146.72 L596.40,147.64 L596.90,148.55 L597.40,149.45 L597.90,150.34 L598.40,151.23 L598.90,152.11 L599.40,152.98 L599.90,153.84 L600.40,154.69 L600.90,155.54 L601.40,156.38 L601.90,157.21 L602.40,158.03 L602.90,158.84 L603.40,159.65 L603.90,160.45 L604.40,161.24 L604.90,162.02 L605.40,162.80 L605.90,163.57 L606.40,164.33 L606.90,165.08 L607.40,165.83 L607.90,166.57 L608.40,167.30 L608.90,168.03 L609.40,168.75 L609.90,169.46 L610.40,170.16 L610.90,170.86 L611.40,171.55 L611.90,172.23 L612.40,172.91 L612.90,173.58 L613.40,174.24 L613.90,174.90 L614.40,175.55 L614.90,176.20 L615.40,176.83 L615.90,177.47 L616.40,178.09 L616.90,178.71 L617.40,179.32 L617.90,179.93 L618.40,180.53 L618.90,181.12 L619.40,181.71 L619.90,182.30 L620.40,182.87 L620.90,183.44 L621.40,184.01 L621.90,184.57 L622.40,185.13 L622.90,185.67 L623.40,186.22 L623.90,186.76 L624.40,187.29 L624.90,187.82 L625.40,188.34 L625.90,188.85 L626.40,189.37 L626.90,189.87 L627.40,190.37 L627.90,190.87 L628.40,191.36 L628.90,191.85 L629.40,192.33 L629.90,192.81 L630.40,193.28 L630.90,193.75 L631.40,194.21 L631.90,194.67 L632.40,195.13 L632.90,195.58 L633.40,196.02 L633.90,196.46 L634.40,196.90 L634.90,197.33 L635.40,197.76 L635.90,198.19 L636.40,198.61 L636.90,199.02 L637.40,199.44 L637.90,199.85 L638.40,200.25 L638.90,200.65 L639.40,201.05 L639.90,201.44 L640.40,201.84 L640.90,202.22 L641.40,202.61 L641.90,202.99 L642.40,203.36 L642.90,203.74 L643.40,204.11 L643.90,204.47 L644.40,204.84 L644.90,205.20 L645.40,205.56 L645.90,205.91 L646.40,206.27 L646.90,206.62 L647.40,206.96 L647.90,207.31 L648.40,207.65 L648.90,207.99 L649.40,208.32 L649.90,208.66 L650.40,208.99 L650.90,209.32 L651.40,209.64 L651.90,209.97 L652.40,210.29 L652.90,210.61 L653.40,210.93 L653.90,211.24 L654.40,211.56 L654.90,211.87 L655.40,212.18 L655.90,212.49 L656.40,212.79 L656.90,213.10 L657.40,213.40 L657.90,213.70 L658.40,214.00 L658.90,214.30 L659.40,214.60 L659.90,214.89 L660.40,215.19 L660.90,215.48 L661.40,215.77 L661.90,216.06 L662.40,216.35 L662.90,216.64 L663.40,216.93 L663.90,217.21 L664.40,217.50 L664.90,217.78 L665.40,218.07 L665.90,218.35 L666.40,218.64 L666.90,218.92 L667.40,219.20 L667.90,219.48 L668.40,219.76 L668.90,220.04 L669.40,220.32 L669.90,220.60 L670.40,220.88 L670.90,221.16 L671.40,221.44 L671.60,221.55" stroke="#111" stroke-width="1.6" stroke-dasharray="5 5.1"/>
</g>
<rect x="211.4" y="19.3" width="103.2" height="38.1" fill="#fff" stroke="#7a7a7a" stroke-width="1"/>
<line x1="213.9" y1="29.3" x2="239.8" y2="29.3" stroke="#e8202f" stroke-width="1.4"/>
<line x1="213.6" y1="47.5" x2="239.8" y2="47.5" stroke="#111" stroke-width="1.6" stroke-dasharray="5 5.1"/>
<text transform="translate(244.20,34.00) scale(1,1.02)" text-anchor="start" font-size="13.75" >Experiment</text>
<text transform="translate(244.20,52.00) scale(1,1.02)" text-anchor="start" font-size="13.75" >Fit</text>
<rect x="565.4" y="19.3" width="103.2" height="38.1" fill="#fff" stroke="#7a7a7a" stroke-width="1"/>
<line x1="567.9" y1="29.3" x2="593.8" y2="29.3" stroke="#e8202f" stroke-width="1.4"/>
<line x1="567.6" y1="47.5" x2="593.8" y2="47.5" stroke="#111" stroke-width="1.6" stroke-dasharray="5 5.1"/>
<text transform="translate(598.20,34.00) scale(1,1.02)" text-anchor="start" font-size="13.75" >Experiment</text>
<text transform="translate(598.20,52.00) scale(1,1.02)" text-anchor="start" font-size="13.75" >Fit</text>
<text transform="translate(45.75,239.20) scale(1,1.08)" text-anchor="middle" font-size="13.45" >0.50</text><text transform="translate(84.57,239.20) scale(1,1.08)" text-anchor="middle" font-size="13.45" >0.51</text><text transform="translate(123.39,239.20) scale(1,1.08)" text-anchor="middle" font-size="13.45" >0.52</text><text transform="translate(162.21,239.20) scale(1,1.08)" text-anchor="middle" font-size="13.45" >0.53</text><text transform="translate(201.04,239.20) scale(1,1.08)" text-anchor="middle" font-size="13.45" >0.54</text><text transform="translate(239.86,239.20) scale(1,1.08)" text-anchor="middle" font-size="13.45" >0.55</text><text transform="translate(278.68,239.20) scale(1,1.08)" text-anchor="middle" font-size="13.45" >0.56</text><text transform="translate(317.50,239.20) scale(1,1.08)" text-anchor="middle" font-size="13.45" >0.57</text><text transform="translate(407.60,239.20) scale(1,1.08)" text-anchor="middle" font-size="13.45" >0.50</text><text transform="translate(445.43,239.20) scale(1,1.08)" text-anchor="middle" font-size="13.45" >0.51</text><text transform="translate(483.26,239.20) scale(1,1.08)" text-anchor="middle" font-size="13.45" >0.52</text><text transform="translate(521.09,239.20) scale(1,1.08)" text-anchor="middle" font-size="13.45" >0.53</text><text transform="translate(558.91,239.20) scale(1,1.08)" text-anchor="middle" font-size="13.45" >0.54</text><text transform="translate(596.74,239.20) scale(1,1.08)" text-anchor="middle" font-size="13.45" >0.55</text><text transform="translate(634.57,239.20) scale(1,1.08)" text-anchor="middle" font-size="13.45" >0.56</text><text transform="translate(672.40,239.20) scale(1,1.08)" text-anchor="middle" font-size="13.45" >0.57</text><text transform="translate(40.40,20.85) scale(1,1.08)" text-anchor="end" font-size="13.45" >70</text><text transform="translate(40.40,55.39) scale(1,1.08)" text-anchor="end" font-size="13.45" >60</text><text transform="translate(40.40,89.93) scale(1,1.08)" text-anchor="end" font-size="13.45" >50</text><text transform="translate(40.40,124.47) scale(1,1.08)" text-anchor="end" font-size="13.45" >40</text><text transform="translate(40.40,159.02) scale(1,1.08)" text-anchor="end" font-size="13.45" >30</text><text transform="translate(40.40,193.56) scale(1,1.08)" text-anchor="end" font-size="13.45" >20</text><text transform="translate(40.40,228.10) scale(1,1.08)" text-anchor="end" font-size="13.45" >10</text><text transform="translate(402.00,20.85) scale(1,1.08)" text-anchor="end" font-size="13.45" >0.30</text><text transform="translate(402.00,62.30) scale(1,1.08)" text-anchor="end" font-size="13.45" >0.25</text><text transform="translate(402.00,103.75) scale(1,1.08)" text-anchor="end" font-size="13.45" >0.20</text><text transform="translate(402.00,145.20) scale(1,1.08)" text-anchor="end" font-size="13.45" >0.15</text><text transform="translate(402.00,186.65) scale(1,1.08)" text-anchor="end" font-size="13.45" >0.10</text><text transform="translate(402.00,228.10) scale(1,1.08)" text-anchor="end" font-size="13.45" >0.05</text><text transform="translate(181.62,258.90) scale(1,1.04)" text-anchor="middle" font-size="13.75" >Frequency (THz)</text><text transform="translate(540.00,258.90) scale(1,1.04)" text-anchor="middle" font-size="13.75" >Frequency (THz)</text>
<text transform="translate(-0.9,14.1)" font-size="19.4" font-weight="bold" fill="#111">a</text>
<text transform="translate(353.8,14.1)" font-size="19.4" font-weight="bold" fill="#111">b</text>
<!-- y labels -->
<g transform="translate(13.3,119.5) rotate(-90)">
<text transform="translate(-34.9,0) scale(1.22,0.935)" font-size="13.6" font-family="Liberation Sans">&#945;</text>
<text transform="translate(-25.1,3.3) scale(1,0.935)" font-size="9.5">bulk</text>
<text transform="translate(-4.2,0) scale(1,1.0)" font-size="14">(cm<tspan font-size="9.5" dy="-6.3">&#8722;1</tspan><tspan dy="6.3">)</tspan></text>
</g>
<g transform="translate(362.2,119.5) rotate(-90)">
<text font-size="14" transform="translate(-4.3,0) scale(1,0.95)">n<tspan font-size="9.5" dx="-0.5" dy="3.9">i</tspan></text>
</g>
</svg>
</body></html>
